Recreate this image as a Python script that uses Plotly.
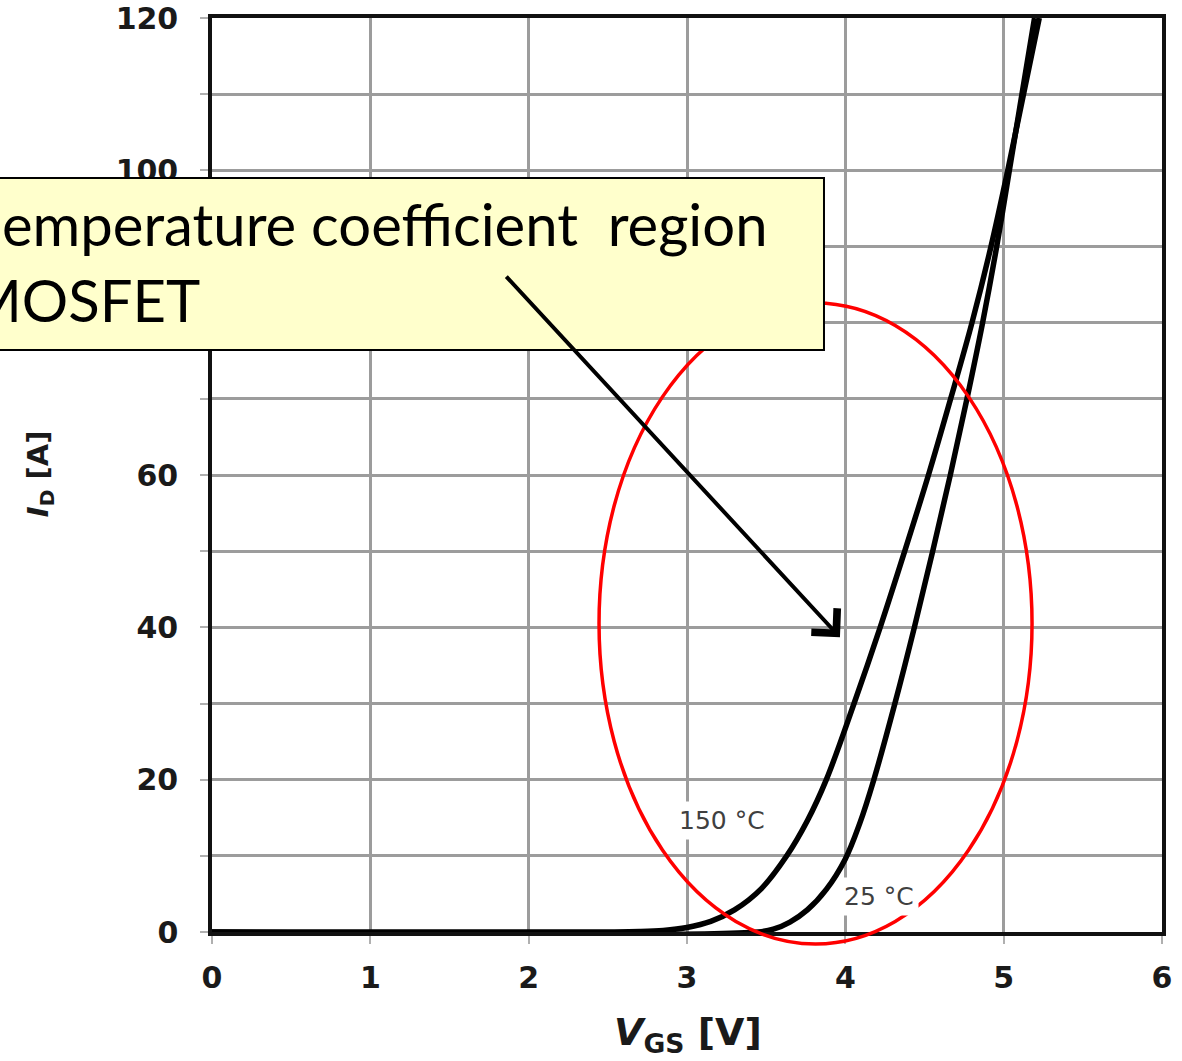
import plotly.graph_objects as go

# Transfer characteristics I_D(V_GS) at two junction temperatures
vgs_150 = [0.0, 2.5, 2.7, 2.85, 3.0, 3.15, 3.3, 3.47, 3.63, 3.76, 3.88,
           4.055, 4.22, 4.375, 4.525, 4.665, 4.80, 4.92, 5.026, 5.225]
id_150 = [0.0, 0.0, 0.05, 0.2, 0.6, 1.4, 2.9, 5.7, 10.0, 14.6, 20.0,
          30.0, 40.0, 50.0, 60.0, 70.0, 80.0, 90.0, 100.0, 120.0]

vgs_25 = [0.0, 3.45, 3.55, 3.65, 3.76, 3.88, 4.0, 4.09, 4.18, 4.313, 4.436,
          4.552, 4.663, 4.768, 4.867, 4.956, 5.036, 5.195]
id_25 = [0.0, 0.0, 0.4, 1.3, 2.9, 5.6, 9.6, 14.2, 20.0, 30.0, 40.0,
         50.0, 60.0, 70.0, 80.0, 90.0, 100.0, 120.0]

x_ticks = [0, 1, 2, 3, 4, 5, 6]
y_ticks = list(range(0, 121, 10))
y_ticktext = [str(v) if v % 20 == 0 else "" for v in y_ticks]

curve_labels = [("150 °C", 3.22, 14.7), ("25 °C", 4.215, 4.6)]
note_lines = ["emperature coefficient\u00a0 region", "MOSFET"]

TICK_FONT = dict(family="DejaVu Sans", size=30, color="#1a1a1a", weight="bold")

fig = go.Figure()
for v, i in ((vgs_150, id_150), (vgs_25, id_25)):
    fig.add_trace(go.Scatter(
        x=v, y=i, mode="lines",
        line=dict(color="black", width=5.5, shape="spline", smoothing=1.0),
        hoverinfo="skip", showlegend=False,
    ))

axis_common = dict(
    showgrid=True, gridcolor="#9c9c9c", gridwidth=2.5,
    showline=True, linecolor="#111111", linewidth=3.5, mirror=True,
    ticks="outside", ticklen=8, tickcolor="#b0b0b0", tickwidth=2,
    tickfont=TICK_FONT, zeroline=False, automargin=False,
)

fig.update_xaxes(range=[0, 6], tickmode="array", tickvals=x_ticks,
                 ticklabelstandoff=8, **axis_common)
fig.update_yaxes(range=[0, 120], tickmode="array", tickvals=y_ticks,
                 ticktext=y_ticktext, ticklabelstandoff=16, **axis_common)

# axis titles
fig.add_annotation(text="<i>V</i><sub>GS</sub> [V]", xref="paper", yref="paper",
                   x=0.501, y=-0.1116, xanchor="center", yanchor="middle",
                   showarrow=False,
                   font=dict(family="DejaVu Sans", size=38, color="#1a1a1a", weight="bold"))
fig.add_annotation(text="<i>I</i><sub>D</sub> [A]", xref="paper", yref="paper",
                   x=-0.181, y=0.501, xanchor="center", yanchor="middle",
                   textangle=-90, showarrow=False,
                   font=dict(family="DejaVu Sans", size=29, color="#1a1a1a", weight="bold"))

# temperature labels on the curves
for txt, lx, ly in curve_labels:
    fig.add_annotation(text=txt, x=lx, y=ly, xref="x", yref="y", showarrow=False,
                       bgcolor="white", borderpad=4,
                       font=dict(family="DejaVu Sans", size=25, color="#404040"))

# highlighted region and call-out box
fig.add_shape(type="circle", xref="paper", yref="paper",
              x0=0.4074, x1=0.8632, y0=-0.0131, y1=0.6882,
              line=dict(color="#ff0000", width=3.5), fillcolor="rgba(0,0,0,0)",
              layer="above")
fig.add_shape(type="rect", xref="paper", yref="paper",
              x0=-0.2284, x1=0.6442, y0=0.6368, y1=0.8249,
              line=dict(color="black", width=2), fillcolor="#ffffcc",
              layer="above")

fig.add_annotation(text=note_lines[0], xref="paper", yref="paper",
                   x=-0.2232, y=0.7755, xanchor="left", yanchor="middle",
                   showarrow=False,
                   font=dict(family="Lato", size=58, color="black"))
fig.add_annotation(text=note_lines[1], xref="paper", yref="paper",
                   x=-0.259, y=0.6916, xanchor="left", yanchor="middle",
                   showarrow=False,
                   font=dict(family="Lato", size=58, color="black"))

fig.add_annotation(text="", x=3.966, y=38.7, xref="x", yref="y",
                   ax=1.85, ay=86.25, axref="x", ayref="y",
                   showarrow=True, arrowhead=4, arrowsize=1.7, arrowwidth=4,
                   arrowcolor="black", standoff=0)

fig.update_layout(
    width=1182, height=1061,
    margin=dict(l=212, r=20, t=18, b=129, autoexpand=False),
    paper_bgcolor="white", plot_bgcolor="white",
    showlegend=False,
)

fig.write_html("out.html")
